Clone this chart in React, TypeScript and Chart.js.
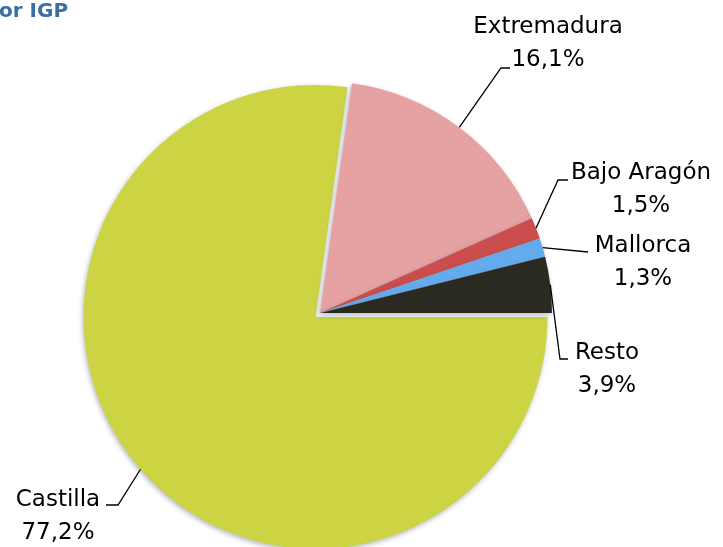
import React, { useEffect, useRef } from "react";
import { Chart, registerables } from "chart.js";

Chart.register(...registerables);

const categories = ["Castilla", "Extremadura", "Bajo Aragón", "Mallorca", "Resto"];
const shares = [77.2, 16.1, 1.5, 1.3, 3.9];
const shareLabels = ["77,2%", "16,1%", "1,5%", "1,3%", "3,9%"];
const sliceColors = ["#cdd443", "#e6a2a2", "#cc4d4d", "#64abee", "#2b2a21"];
const titleText = "or IGP";

// leader-line / label placement, relative to the pie centre
const labelLayout = [
  { elbow: [-202, 192], end: [-214, 192], text: [-262, 187] },
  { elbow: [181, -245], end: [190, -245], text: [228, -286] },
  { elbow: [238, -133], end: [248, -133], text: [321, -140] },
  { elbow: null, end: [268, -61], text: [323, -67] },
  { elbow: [240, 46], end: [248, 46], text: [287, 40] },
];

const EXPLODE = 6;
const FONT = "DejaVu Sans";

const explodePlugin = {
  id: "explodeFirst",
  beforeDatasetDraw(chart: any, args: any) {
    const el = args.meta.data[0];
    if (el && !el._patched) {
      const orig = el.draw.bind(el);
      el.draw = (ctx: CanvasRenderingContext2D) => {
        const mid = (el.startAngle + el.endAngle) / 2;
        ctx.save();
        ctx.translate(Math.cos(mid) * EXPLODE, Math.sin(mid) * EXPLODE);
        orig(ctx);
        ctx.restore();
      };
      el._patched = true;
    }
  },
};

const shadowPlugin = {
  id: "softShadow",
  beforeDatasetsDraw(chart: any) {
    const ctx = chart.ctx;
    ctx.save();
    ctx.shadowColor = "rgba(70,80,110,0.4)";
    ctx.shadowBlur = 5;
    ctx.shadowOffsetX = -1;
    ctx.shadowOffsetY = 2;
  },
  afterDatasetsDraw(chart: any) {
    chart.ctx.restore();
  },
};

const labelPlugin = {
  id: "leaderLabels",
  afterDraw(chart: any) {
    const ctx = chart.ctx as CanvasRenderingContext2D;
    const meta = chart.getDatasetMeta(0);
    ctx.save();
    // title
    ctx.fillStyle = "#3b6ea6";
    ctx.font = `bold 20px "${FONT}"`;
    ctx.textAlign = "left";
    ctx.textBaseline = "alphabetic";
    ctx.fillText(titleText, -1, 17);

    meta.data.forEach((arc: any, i: number) => {
      const cx = arc.x;
      const cy = arc.y;
      const mid = (arc.startAngle + arc.endAngle) / 2;
      const ex = i === 0 ? EXPLODE : 0;
      const sx = cx + Math.cos(mid) * (arc.outerRadius + ex);
      const sy = cy + Math.sin(mid) * (arc.outerRadius + ex);
      const L = labelLayout[i];
      ctx.strokeStyle = "#000";
      ctx.lineWidth = 1.3;
      ctx.beginPath();
      ctx.moveTo(sx, sy);
      if (L.elbow) ctx.lineTo(cx + L.elbow[0], cy + L.elbow[1]);
      ctx.lineTo(cx + L.end[0], cy + L.end[1]);
      ctx.stroke();

      ctx.fillStyle = "#000";
      ctx.font = `23px "${FONT}"`;
      ctx.textAlign = "center";
      ctx.textBaseline = "middle";
      ctx.fillText(categories[i], cx + L.text[0], cy + L.text[1]);
      ctx.fillText(shareLabels[i], cx + L.text[0], cy + L.text[1] + 33);
    });
    ctx.restore();
  },
};

export default function App() {
  const ref = useRef<HTMLCanvasElement | null>(null);
  useEffect(() => {
    if (!ref.current) return;
    const chart = new Chart(ref.current, {
      type: "pie",
      data: {
        labels: categories,
        datasets: [
          {
            data: shares,
            backgroundColor: sliceColors,
            borderWidth: 0,
            clip: false as any,
          },
        ],
      },
      options: {
        responsive: false,
        animation: false,
        rotation: 90,
        radius: 232,
        layout: { padding: { left: 0, right: 83, top: 79, bottom: 0 } },
        plugins: {
          legend: { display: false },
          tooltip: { enabled: false },
          title: { display: false },
        },
      },
      plugins: [explodePlugin, shadowPlugin, labelPlugin],
    });
    return () => chart.destroy();
  }, []);
  return (
    <div style={{ position: "absolute", left: 0, top: 0, width: 723, height: 547, background: "#fff" }}>
      <canvas ref={ref} width={723} height={547} style={{ display: "block" }} />
    </div>
  );
}
